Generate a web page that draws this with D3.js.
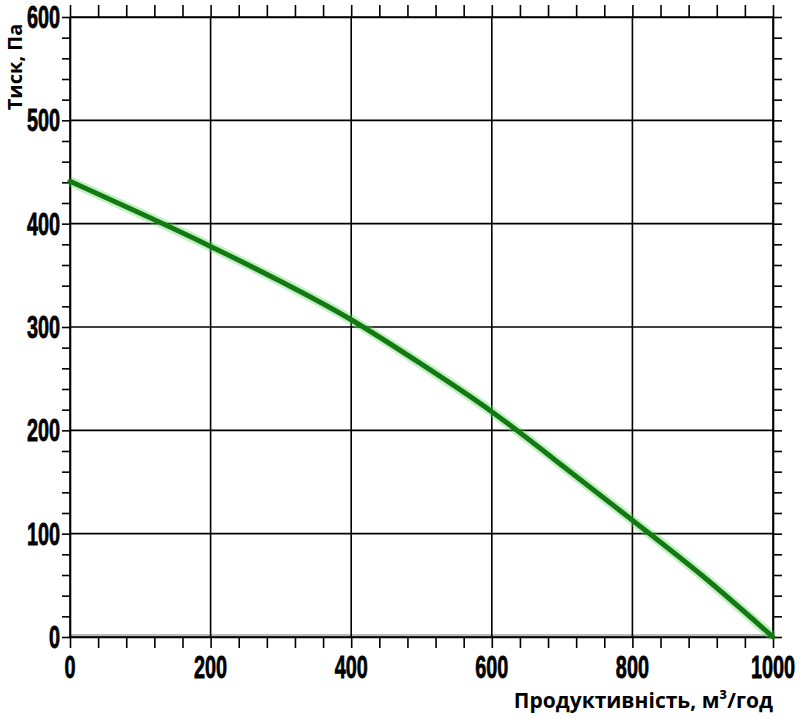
<!DOCTYPE html>
<html>
<head>
<meta charset="utf-8">
<script src="https://cdn.jsdelivr.net/npm/d3@7"></script>
<style>
  body { margin: 0; background: #fff; }
  svg { display: block; }
  .num { font-family: "Liberation Sans", Arial, sans-serif; font-weight: bold; font-size: 32px; fill: #000; }
  .ttl { font-family: "Open Sans", "Liberation Sans", sans-serif; font-weight: bold; fill: #000; }
</style>
</head>
<body>
<div id="container"></div>
<script>
// curve data (airflow m3/h -> pressure Pa)
var flow = [0, 100, 200, 300, 400, 500, 600, 700, 800, 900, 1000];
var pressure = [441, 410, 378, 344, 307, 264, 218, 166, 113, 59, 0];

// tick labels
var xTicks = [0, 200, 400, 600, 800, 1000];
var yTicks = [0, 100, 200, 300, 400, 500, 600];

var width = 800, height = 719;
var margin = {top: 17, right: 27, bottom: 82, left: 70};
var w = width - margin.left - margin.right;
var h = height - margin.top - margin.bottom;

var svg = d3.select("#container")
  .append("svg")
  .attr("width", width)
  .attr("height", height);

var g = svg.append("g")
  .attr("transform", "translate(" + margin.left + "," + margin.top + ")");

var x = d3.scaleLinear().domain([0, 1000]).range([0, w]);
var y = d3.scaleLinear().domain([0, 600]).range([h, 0]);

var xMinor = d3.range(0, 1001, 40);
var yMinor = d3.range(0, 601, 20);

// grey shadow along the zero line
g.append("line")
  .attr("x1", 0).attr("x2", w)
  .attr("y1", y(0) - 1).attr("y2", y(0) - 1)
  .attr("stroke", "#bbb").attr("stroke-width", 4);

// grid
g.append("g").selectAll("line").data(xTicks).enter().append("line")
  .attr("x1", function(d) { return x(d); }).attr("x2", function(d) { return x(d); })
  .attr("y1", 0).attr("y2", h)
  .attr("stroke", "#000").attr("stroke-width", 1.6);
g.append("g").selectAll("line").data(yTicks).enter().append("line")
  .attr("x1", 0).attr("x2", w)
  .attr("y1", function(d) { return y(d); }).attr("y2", function(d) { return y(d); })
  .attr("stroke", "#000").attr("stroke-width", 1.6);

// minor ticks on all four sides
function styleAxis(sel) {
  sel.select(".domain").attr("stroke", "#000").attr("stroke-width", 1.6);
  sel.selectAll(".tick line").attr("stroke", "#000").attr("stroke-width", 1.6);
  sel.selectAll(".tick text").remove();
}
g.append("g").attr("transform", "translate(0," + h + ")")
  .call(d3.axisBottom(x).tickValues(xMinor).tickSizeInner(11).tickSizeOuter(0))
  .call(styleAxis);
g.append("g")
  .call(d3.axisTop(x).tickValues(xMinor).tickSizeInner(12).tickSizeOuter(0))
  .call(styleAxis);
g.append("g")
  .call(d3.axisLeft(y).tickValues(yMinor).tickSizeInner(8).tickSizeOuter(0))
  .call(styleAxis);
g.append("g").attr("transform", "translate(" + w + ",0)")
  .call(d3.axisRight(y).tickValues(yMinor).tickSizeInner(9).tickSizeOuter(0))
  .call(styleAxis);

// tick labels (heavy condensed digits)
g.append("g").selectAll("text").data(yTicks).enter().append("text")
  .attr("class", "num")
  .attr("text-anchor", "end")
  .attr("stroke", "#000").attr("stroke-width", 0.8)
  .attr("transform", function(d) { return "translate(-10," + (y(d) + 11) + ") scale(0.62,1)"; })
  .text(function(d) { return d; });
g.append("g").selectAll("text").data(xTicks).enter().append("text")
  .attr("class", "num")
  .attr("text-anchor", "middle")
  .attr("stroke", "#000").attr("stroke-width", 0.8)
  .attr("transform", function(d) { return "translate(" + x(d) + "," + (h + 41) + ") scale(0.62,1)"; })
  .text(function(d) { return d; });

// curve
var line = d3.line()
  .x(function(d, i) { return x(flow[i]); })
  .y(function(d) { return y(d); })
  .curve(d3.curveNatural);

g.append("path").datum(pressure)
  .attr("d", line)
  .attr("fill", "none")
  .attr("stroke", "#58d058").attr("stroke-opacity", 0.35)
  .attr("stroke-width", 10);
g.append("path").datum(pressure)
  .attr("d", line)
  .attr("fill", "none")
  .attr("stroke", "#137a13")
  .attr("stroke-width", 5)
  .attr("stroke-linecap", "round");

// axis titles
svg.append("text")
  .attr("class", "ttl")
  .attr("transform", "translate(22,67) rotate(-90)")
  .attr("text-anchor", "middle")
  .style("font-size", "20px")
  .text("Тиск, Па");
svg.append("text")
  .attr("class", "ttl")
  .attr("x", 773).attr("y", 708)
  .attr("text-anchor", "end")
  .style("font-size", "21px")
  .text("Продуктивність, м³/год");
</script>
</body>
</html>
